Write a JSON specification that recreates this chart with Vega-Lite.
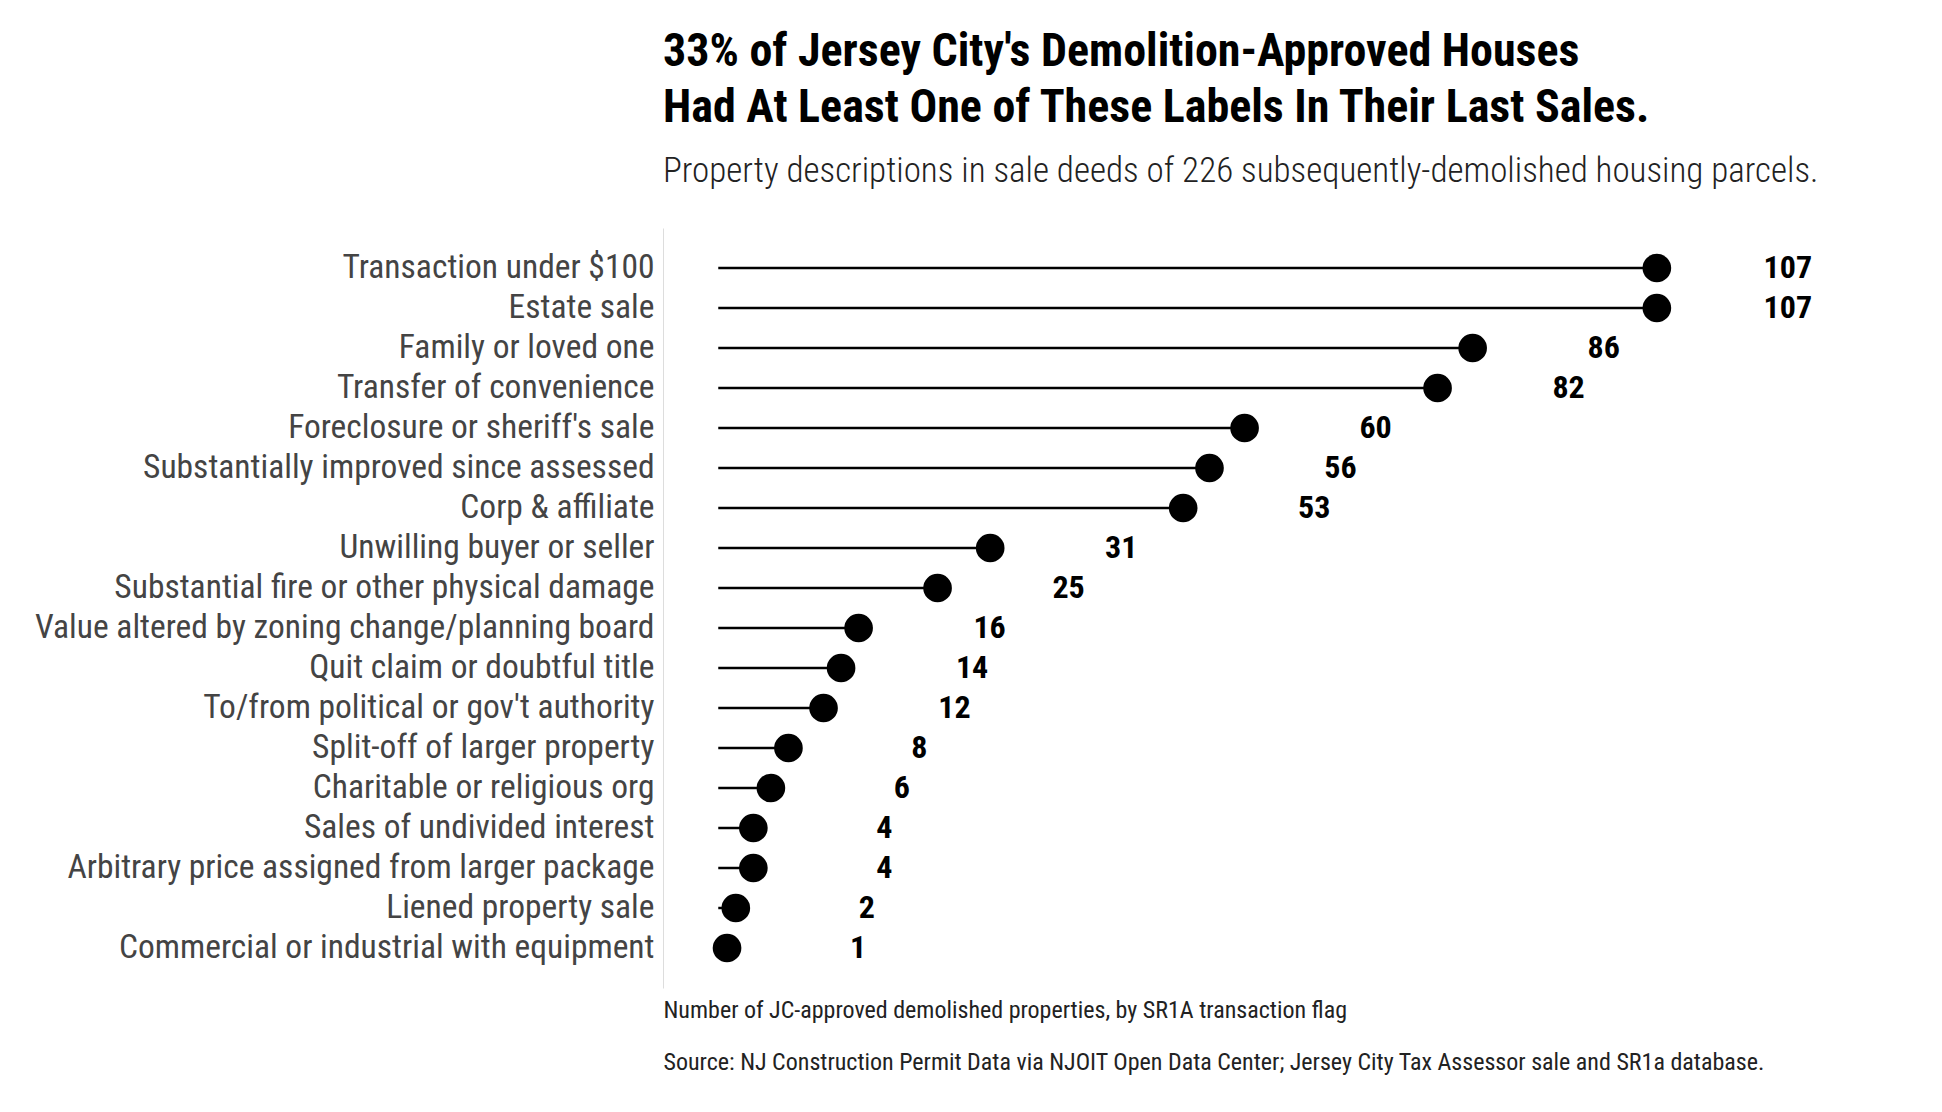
{
  "$schema": "https://vega.github.io/schema/vega-lite/v6.json",
  "autosize": "none",
  "padding": {"left": 663, "top": 228, "right": 79, "bottom": 124},
  "width": 1200,
  "height": 760,
  "background": "white",
  "view": {"stroke": null},
  "title": {
    "text": ["33% of Jersey City's Demolition-Approved Houses", "Had At Least One of These Labels In Their Last Sales."],
    "subtitle": "Property descriptions in sale deeds of 226 subsequently-demolished housing parcels.",
    "anchor": "start",
    "frame": "group",
    "font": "Roboto Condensed, Roboto",
    "fontSize": 46,
    "fontWeight": "bold",
    "lineHeight": 56,
    "color": "black",
    "subtitleFont": "Roboto Condensed, Roboto",
    "subtitleFontSize": 35,
    "subtitleFontWeight": 300,
    "subtitleColor": "#222",
    "subtitlePadding": 22,
    "offset": 38
  },
  "data": {
    "values": [
      {"label": "Transaction under $100", "n": 107},
      {"label": "Estate sale", "n": 107},
      {"label": "Family or loved one", "n": 86},
      {"label": "Transfer of convenience", "n": 82},
      {"label": "Foreclosure or sheriff's sale", "n": 60},
      {"label": "Substantially improved since assessed", "n": 56},
      {"label": "Corp & affiliate", "n": 53},
      {"label": "Unwilling buyer or seller", "n": 31},
      {"label": "Substantial fire or other physical damage", "n": 25},
      {"label": "Value altered by zoning change/planning board", "n": 16},
      {"label": "Quit claim or doubtful title", "n": 14},
      {"label": "To/from political or gov't authority", "n": 12},
      {"label": "Split-off of larger property", "n": 8},
      {"label": "Charitable or religious org", "n": 6},
      {"label": "Sales of undivided interest", "n": 4},
      {"label": "Arbitrary price assigned from larger package", "n": 4},
      {"label": "Liened property sale", "n": 2},
      {"label": "Commercial or industrial with equipment", "n": 1}
    ]
  },
  "encoding": {
    "y": {
      "field": "label",
      "type": "nominal",
      "sort": null,
      "scale": {"paddingOuter": 0.5},
      "axis": {
        "title": null,
        "ticks": false,
        "domainColor": "#ddd",
        "labelFont": "Roboto Condensed, Roboto",
        "labelFontSize": 33.5,
        "labelColor": "#444",
        "labelPadding": 9,
        "labelLimit": 800
      }
    },
    "x": {
      "field": "n",
      "type": "quantitative",
      "scale": {"domain": [-6.3, 130.5], "nice": false, "zero": false},
      "axis": {
        "grid": false,
        "labels": false,
        "ticks": false,
        "domain": false,
        "title": ["Number of JC-approved demolished properties, by SR1A transaction flag", "Source: NJ Construction Permit Data via NJOIT Open Data Center; Jersey City Tax Assessor sale and SR1a database."],
        "titleAnchor": "start",
        "titleAlign": "left",
        "titleFont": "Roboto Condensed, Roboto",
        "titleFontSize": 24,
        "titleFontWeight": "normal",
        "titleColor": "#222",
        "titleLineHeight": 52,
        "titlePadding": 10
      }
    }
  },
  "layer": [
    {
      "mark": {"type": "rule", "color": "black", "strokeWidth": 2.5},
      "encoding": {"x": {"datum": 0}, "x2": {"field": "n"}}
    },
    {
      "mark": {"type": "circle", "color": "black", "opacity": 1, "size": 820}
    },
    {
      "mark": {"type": "text", "dx": 131, "align": "center", "baseline": "middle", "font": "Roboto Condensed, Roboto", "fontSize": 32, "fontWeight": "bold", "color": "black"},
      "encoding": {"text": {"field": "n"}}
    }
  ]
}
